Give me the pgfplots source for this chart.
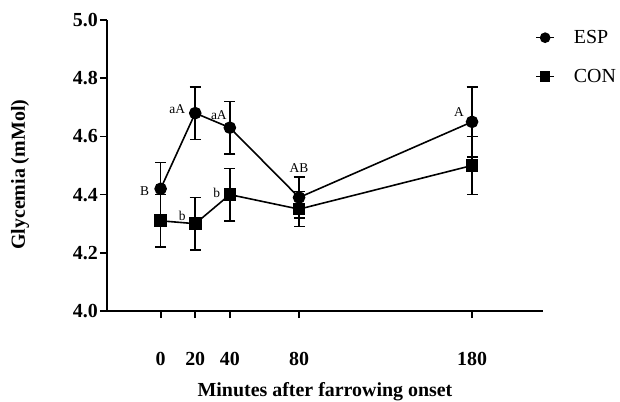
\documentclass[border=0pt]{standalone}
\usepackage{fontspec}
\setmainfont{Liberation Serif}
\usepackage{pgfplots}
\pgfplotsset{compat=1.18}

\begin{document}
\begin{tikzpicture}
\begin{axis}[
  scale only axis, width=436bp, height=291bp,
  xmin=-31, xmax=221, ymin=4.0, ymax=5.0,
  axis lines=left, axis line style={-, line width=1.8pt},
  xtick={0,20,40,80,180},
  ytick={4.0,4.2,...,5.0},
  tick align=outside, major tick length=7bp,
  tick style={line width=1.8pt, black},
  /pgf/number format/assume math mode=true,
  yticklabel style={/pgf/number format/fixed, /pgf/number format/fixed zerofill,
    /pgf/number format/precision=1, inner sep=0pt, xshift=-2bp},
  tick label style={font=\fontsize{20}{24}\selectfont\bfseries},
  xticklabel style={anchor=base, inner sep=0pt, yshift=-47bp},
  xlabel={\textbf{Minutes after farrowing onset}},
  ylabel={\textbf{Glycemia (mMol)}},
  label style={font=\fontsize{20}{24}\selectfont},
  xlabel style={at={(axis description cs:0.5,-0.278)}, anchor=center},
  ylabel style={at={(axis description cs:-0.1995,0.468)}, anchor=center},
  clip=false,
  legend style={draw=none, fill=none, font=\fontsize{20}{24}\selectfont,
    at={(axis description cs:0.982,0.972)}, anchor=north west, inner sep=0pt,
    row sep=20bp},
  legend cell align=left,
  legend image code/.code={
    \draw[#1, mark=none] (0bp,0bp) -- (18bp,0bp);
    \draw[#1, only marks, mark size=4.5bp] plot coordinates {(9bp,0bp)};
  },
]
\addplot[black, line width=1.6pt, mark=*, mark size=5.5bp,
  mark options={fill=black, draw=black},
  error bars/.cd, y dir=both, y explicit,
  error bar style={line width=1.6pt, black},
  error mark options={rotate=90, mark size=5.5bp, line width=1.6pt, black}] coordinates {
  (0,4.42) +- (0,0.09)
  (20,4.68) +- (0,0.09)
  (40,4.63) +- (0,0.09)
  (80,4.39) +- (0,0.07)
  (180,4.65) +- (0,0.12)
};
\addlegendentry{\hspace{17bp}ESP}
\addplot[black, line width=1.6pt, mark=square*, mark size=5.5bp,
  mark options={fill=black, draw=black},
  error bars/.cd, y dir=both, y explicit,
  error bar style={line width=1.6pt, black},
  error mark options={rotate=90, mark size=5.5bp, line width=1.6pt, black}] coordinates {
  (0,4.31) +- (0,0.09)
  (20,4.30) +- (0,0.09)
  (40,4.40) +- (0,0.09)
  (80,4.35) +- (0,0.06)
  (180,4.50) +- (0,0.10)
};
\addlegendentry{\hspace{17bp}CON}

\begin{scope}[font=\fontsize{13.5}{15}\selectfont]
\node at (axis cs:0,4.42)   [xshift=-16bp, yshift=-2bp] {B};
\node at (axis cs:20,4.68)  [xshift=-18bp, yshift=4bp] {aA};
\node at (axis cs:40,4.63)  [xshift=-11bp, yshift=13bp] {aA};
\node at (axis cs:80,4.39)  [yshift=29bp] {AB};
\node at (axis cs:180,4.65) [xshift=-13bp, yshift=10bp] {A};
\node at (axis cs:20,4.30)  [xshift=-13bp, yshift=8bp] {b};
\node at (axis cs:40,4.40)  [xshift=-13bp, yshift=2bp] {b};
\end{scope}
\coordinate (sw) at (rel axis cs:0,0);
\end{axis}
\pgfresetboundingbox
\path (sw) ++(-107bp,-91bp) rectangle ++(620bp,402bp);
\end{tikzpicture}
\end{document}
